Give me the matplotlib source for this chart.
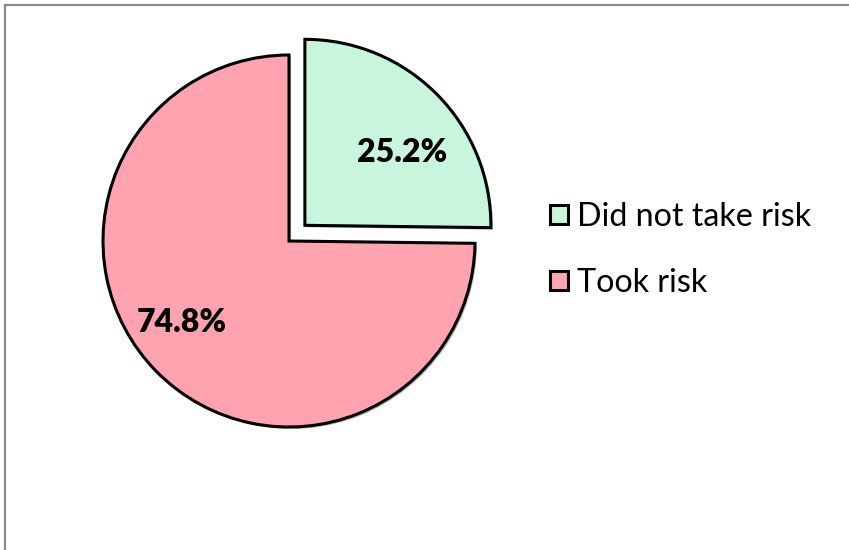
import matplotlib
matplotlib.use("Agg")
import matplotlib.pyplot as plt
from matplotlib.lines import Line2D
import matplotlib.patheffects as pe

categories = ["Did not take risk", "Took risk"]
values = [25.2, 74.8]
value_labels = ["25.2%", "74.8%"]
colors = ["#C8F6DD", "#FFA3B1"]
explode_frac = [0.12, 0.0]

W, H = 849, 550
fig = plt.figure(figsize=(W / 100, H / 100), dpi=100)
ax = fig.add_axes([0, 0, 1, 1])

R = 186
cx, cy = 289, H - 241
wedges, _ = ax.pie(values, explode=[e * R for e in explode_frac], colors=colors,
                   startangle=90, counterclock=False, radius=R, center=(cx, cy),
                   wedgeprops=dict(edgecolor="black", linewidth=2.2),
                   frame=True)
for w in wedges:
    w.set_path_effects([pe.SimplePatchShadow(offset=(1.5, -1.5), alpha=0.35),
                        pe.Normal()])
ax.set_xlim(0, W)
ax.set_ylim(0, H)
ax.set_aspect("equal")
ax.axis("off")

# value labels
label_pos = [(402, H - 153), (182, H - 322)]
for (x, y), t in zip(label_pos, value_labels):
    ax.text(x, y, t, ha="center", va="center", fontsize=23,
            fontweight="heavy", family="Lato", color="black")

leg = fig.legend(wedges, categories, loc="center left",
                 bbox_to_anchor=(550 / W, 1 - 250 / H),
                 frameon=False, prop=dict(family="Lato", size=23.2),
                 handlelength=0.55, handleheight=0.55, handletextpad=0.3,
                 labelspacing=1.12, borderpad=0, borderaxespad=0)

# outer border (top and left)
fig.add_artist(Line2D([5 / W, 1], [1 - 5 / H, 1 - 5 / H], transform=fig.transFigure,
                      color="#8a8a8a", linewidth=1.6))
fig.add_artist(Line2D([5 / W, 5 / W], [0, 1 - 5 / H], transform=fig.transFigure,
                      color="#8a8a8a", linewidth=1.6))

fig.savefig("out.png", dpi=100, facecolor="white")
